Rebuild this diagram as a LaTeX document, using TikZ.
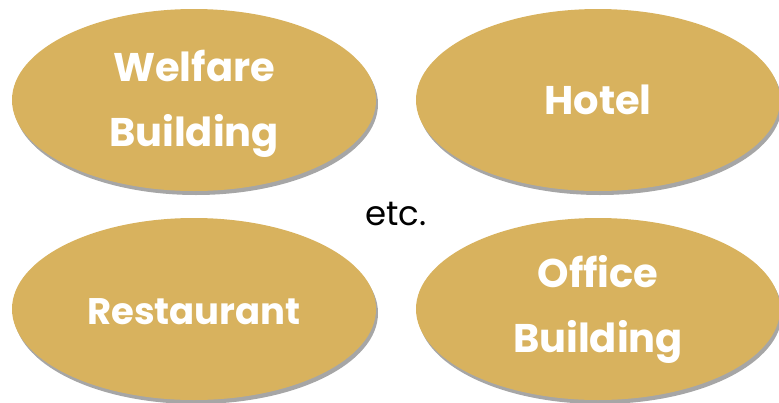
\documentclass[tikz,border=0pt]{standalone}
\usepackage{fontspec}
\setmainfont{Poppins}
\usepackage{xcolor}
\usepackage{tikz}
\usetikzlibrary{shapes.geometric,shadows}

\definecolor{gold}{RGB}{216,178,94}

\tikzset{
  bldg/.style={ellipse, fill=gold, text=white, minimum width=364pt, minimum height=182pt,
    inner sep=0pt, align=center,
    font=\fontsize{40}{65}\selectfont\bfseries,
    drop shadow={shadow xshift=2pt, shadow yshift=-4pt, fill=black, opacity=0.35}},
  bldgtext/.style={text=white, align=center, inner sep=0pt,
    font=\fontsize{40}{65}\selectfont\bfseries},
}

\begin{document}
\begin{tikzpicture}[x=1pt, y=-1pt]

  % Frame
  \useasboundingbox (0,0) rectangle (779,402);

  % Building types
  \node[bldg] (welfare) at (194,100) {};
  \node[bldgtext] (welfaretext) at ([yshift=-4pt]welfare.center) {Welfare\\Building};
  \node[bldg] (hotel) at (598,100) {Hotel};
  \node[bldg, font=\fontsize{37}{60}\selectfont\bfseries] (restaurant) at (194,309) {};
  \node[bldgtext, font=\fontsize{37}{60}\selectfont\bfseries] (restauranttext)
    at ([yshift=-3pt]restaurant.center) {Restaurant};
  \node[bldg] (office) at (598,309) {Office\\Building};

  % etc.
  \node[font=\fontsize{34}{40}\selectfont, text=black] (etc) at (396,214) {etc.};

\end{tikzpicture}
\end{document}
